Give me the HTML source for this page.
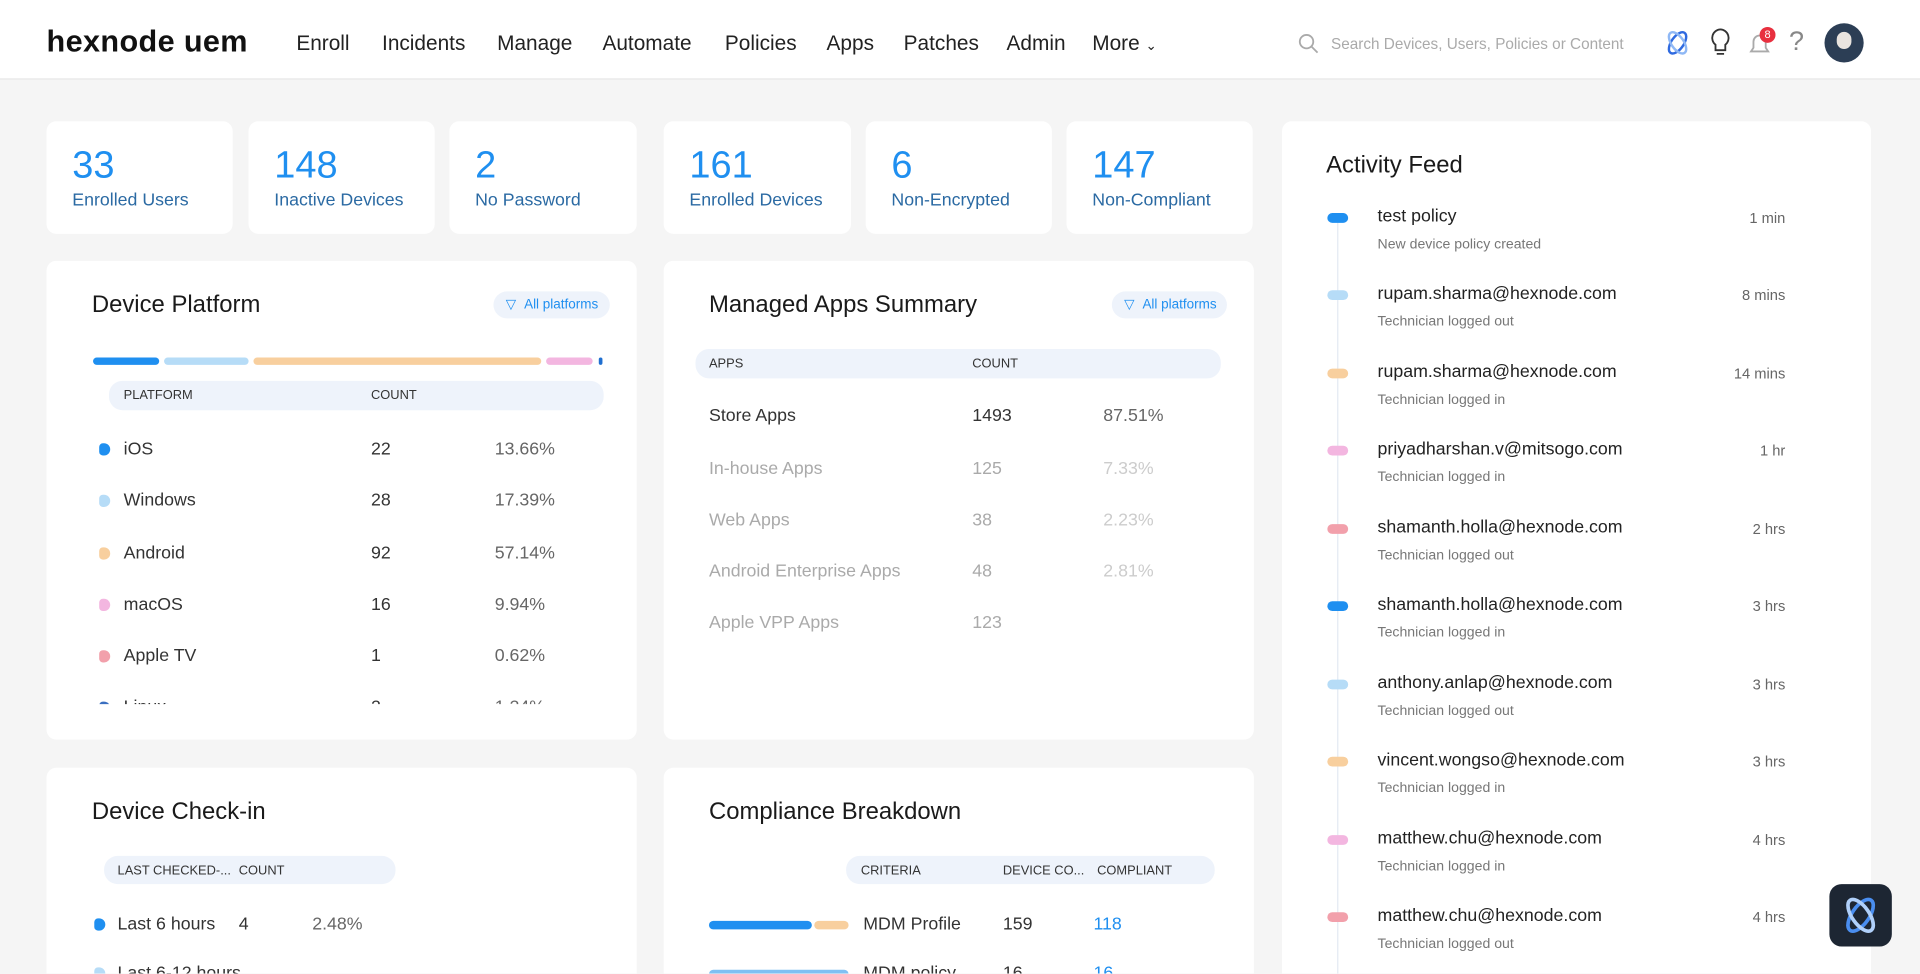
<!DOCTYPE html>
<html><head><meta charset="utf-8"><style>
*{margin:0;padding:0;box-sizing:border-box}
html,body{width:1920px;height:974px;overflow:hidden;background:#f5f5f5;font-family:"Liberation Sans",sans-serif}
#w{position:absolute;left:0;top:0;width:1568px;height:795px;transform:scale(1.22449);transform-origin:0 0;background:#f5f5f5;overflow:hidden}
.a{position:absolute;white-space:nowrap}
.nav{position:absolute;left:0;top:0;width:1568px;height:65px;background:#fff;border-bottom:1px solid #e6e6e6}
.ni{position:absolute;top:26px;font-size:17px;color:#222}
.card{position:absolute;background:#fff;border-radius:8px}
.num{position:absolute;left:21px;top:18px;font-size:31px;color:#1f8ff0}
.lab{position:absolute;left:21px;top:57px;font-size:14.5px;color:#2b6aa3}
.title{position:absolute;font-size:19.5px;color:#1a1a1a}
.pill{position:absolute;background:#eef3fb;border-radius:11px;font-size:10.5px;color:#333}
.filt{position:absolute;background:#eef3fb;border-radius:11px;font-size:11px;color:#1f8ff0;height:22px;line-height:22px;padding-left:25px}
.row{position:absolute;font-size:14.5px;color:#333}
.dot{position:absolute;width:9px;height:10px;border-radius:3px 5px 5px 3px}
.fi{position:absolute;left:0;width:480px;height:60px}
.fd{position:absolute;left:37px;top:-4px;width:17px;height:8px;border-radius:4px}
.fn{position:absolute;left:78px;top:-9px;font-size:14.5px;color:#222}
.ft{position:absolute;right:69px;top:-7px;font-size:12px;color:#666}
.fs{position:absolute;left:78px;top:16px;font-size:11.5px;color:#777}
</style></head><body><div id="w">
<div class="nav">
<div class="a" style="left:38px;top:20px;font-size:25px;font-weight:bold;color:#111;letter-spacing:0.3px">hexnode uem</div>
<div class="ni" style="left:242px">Enroll</div>
<div class="ni" style="left:312px">Incidents</div>
<div class="ni" style="left:406px">Manage</div>
<div class="ni" style="left:492px">Automate</div>
<div class="ni" style="left:592px">Policies</div>
<div class="ni" style="left:675px">Apps</div>
<div class="ni" style="left:738px">Patches</div>
<div class="ni" style="left:822px">Admin</div>
<div class="ni" style="left:892px">More <span style="font-size:11px">&#8964;</span></div>
<svg class="a" style="left:1060px;top:27px" width="18" height="18"><circle cx="7" cy="7" r="5.5" fill="none" stroke="#aaa" stroke-width="1.5"/><line x1="11" y1="11" x2="16" y2="16" stroke="#aaa" stroke-width="1.5"/></svg>
<div class="a" style="left:1087px;top:29px;font-size:12.5px;color:#aaa">Search Devices, Users, Policies or Content</div>
<svg class="a" style="left:1358px;top:23px" width="24" height="24"><ellipse cx="12" cy="12" rx="5" ry="10" fill="none" stroke="#2f6ae0" stroke-width="2" transform="rotate(35 12 12)"/><ellipse cx="12" cy="12" rx="5" ry="10" fill="none" stroke="#8fb8f5" stroke-width="2" transform="rotate(-35 12 12)"/></svg>
<svg class="a" style="left:1395px;top:22px" width="20" height="26"><path d="M10 2a7 7 0 0 0-4 12.5V19h8v-4.5A7 7 0 0 0 10 2z" fill="none" stroke="#333" stroke-width="1.5"/><line x1="7" y1="22" x2="13" y2="22" stroke="#333" stroke-width="1.5"/></svg>
<svg class="a" style="left:1426px;top:24px" width="22" height="24"><path d="M4 18h14l-2-3v-5a5 5 0 0 0-10 0v5z" fill="none" stroke="#aaa" stroke-width="1.5"/></svg>
<div class="a" style="left:1437px;top:22px;width:13px;height:13px;border-radius:7px;background:#e8303f;color:#fff;font-size:9px;text-align:center;line-height:13px">8</div>
<div class="a" style="left:1461px;top:21px;font-size:22px;color:#888">?</div>
<div class="a" style="left:1490px;top:19px;width:32px;height:32px;border-radius:16px;background:#2c3e55;overflow:hidden"><div style="position:absolute;left:10px;top:7px;width:12px;height:14px;border-radius:6px;background:#e9e4df"></div></div>
</div>

<div class="card" style="left:38px;top:99px;width:152px;height:92px"><div class="num">33</div><div class="lab">Enrolled Users</div></div>
<div class="card" style="left:203px;top:99px;width:152px;height:92px"><div class="num">148</div><div class="lab">Inactive Devices</div></div>
<div class="card" style="left:367px;top:99px;width:153px;height:92px"><div class="num">2</div><div class="lab">No Password</div></div>
<div class="card" style="left:542px;top:99px;width:153px;height:92px"><div class="num">161</div><div class="lab">Enrolled Devices</div></div>
<div class="card" style="left:707px;top:99px;width:152px;height:92px"><div class="num">6</div><div class="lab">Non-Encrypted</div></div>
<div class="card" style="left:871px;top:99px;width:152px;height:92px"><div class="num">147</div><div class="lab">Non-Compliant</div></div>

<div class="card" style="left:38px;top:213px;width:482px;height:391px;overflow:hidden">
<div class="title" style="left:37px;top:25px">Device Platform</div>
<div class="filt" style="left:365px;top:25px;width:95px">All platforms<span style="position:absolute;left:10px;top:0">&#9661;</span></div>
<div class="a" style="left:38px;top:79px;width:54px;height:6px;border-radius:3px;background:#1f8ff0"></div>
<div class="a" style="left:96px;top:79px;width:69px;height:6px;border-radius:3px;background:#b6dcf7"></div>
<div class="a" style="left:169px;top:79px;width:235px;height:6px;border-radius:3px;background:#f8cf9e"></div>
<div class="a" style="left:408px;top:79px;width:38px;height:6px;border-radius:3px;background:#f3b6e0"></div>
<div class="a" style="left:451px;top:79px;width:3px;height:6px;border-radius:2px;background:#1f6fd0"></div>
<div class="pill" style="left:51px;top:98px;width:404px;height:24px"><span class="a" style="left:12px;top:6px">PLATFORM</span><span class="a" style="left:214px;top:6px">COUNT</span></div>
<div class="a" style="left:0;top:0;width:482px;height:362px;overflow:hidden">
<div class="dot" style="left:43px;top:149px;background:#1f8ff0"></div><div class="row" style="left:63px;top:146px">iOS</div><div class="row" style="left:265px;top:146px">22</div><div class="row" style="left:366px;top:146px;color:#666">13.66%</div>
<div class="dot" style="left:43px;top:191px;background:#b6dcf7"></div><div class="row" style="left:63px;top:188px">Windows</div><div class="row" style="left:265px;top:188px">28</div><div class="row" style="left:366px;top:188px;color:#666">17.39%</div>
<div class="dot" style="left:43px;top:234px;background:#f8cf9e"></div><div class="row" style="left:63px;top:231px">Android</div><div class="row" style="left:265px;top:231px">92</div><div class="row" style="left:366px;top:231px;color:#666">57.14%</div>
<div class="dot" style="left:43px;top:276px;background:#f3b6e0"></div><div class="row" style="left:63px;top:273px">macOS</div><div class="row" style="left:265px;top:273px">16</div><div class="row" style="left:366px;top:273px;color:#666">9.94%</div>
<div class="dot" style="left:43px;top:318px;background:#f2a0ab"></div><div class="row" style="left:63px;top:315px">Apple TV</div><div class="row" style="left:265px;top:315px">1</div><div class="row" style="left:366px;top:315px;color:#666">0.62%</div>
<div class="dot" style="left:43px;top:360px;background:#3a6fc0"></div><div class="row" style="left:63px;top:357px">Linux</div><div class="row" style="left:265px;top:357px">2</div><div class="row" style="left:366px;top:357px;color:#666">1.24%</div>
</div></div>

<div class="card" style="left:542px;top:213px;width:482px;height:391px">
<div class="title" style="left:37px;top:25px">Managed Apps Summary</div>
<div class="filt" style="left:366px;top:25px;width:94px">All platforms<span style="position:absolute;left:10px;top:0">&#9661;</span></div>
<div class="pill" style="left:26px;top:72px;width:429px;height:24px"><span class="a" style="left:11px;top:6px">APPS</span><span class="a" style="left:226px;top:6px">COUNT</span></div>
<div class="row" style="left:37px;top:119px">Store Apps</div><div class="row" style="left:252px;top:119px">1493</div><div class="row" style="left:359px;top:119px;color:#666">87.51%</div>
<div class="row" style="left:37px;top:162px;color:#aaa">In-house Apps</div><div class="row" style="left:252px;top:162px;color:#aaa">125</div><div class="row" style="left:359px;top:162px;color:#ccc">7.33%</div>
<div class="row" style="left:37px;top:204px;color:#aaa">Web Apps</div><div class="row" style="left:252px;top:204px;color:#aaa">38</div><div class="row" style="left:359px;top:204px;color:#ccc">2.23%</div>
<div class="row" style="left:37px;top:246px;color:#aaa">Android Enterprise Apps</div><div class="row" style="left:252px;top:246px;color:#aaa">48</div><div class="row" style="left:359px;top:246px;color:#ccc">2.81%</div>
<div class="row" style="left:37px;top:288px;color:#aaa">Apple VPP Apps</div><div class="row" style="left:252px;top:288px;color:#aaa">123</div>
</div>

<div class="card" style="left:1047px;top:99px;width:481px;height:720px">
<div class="title" style="left:36px;top:25px">Activity Feed</div>
<div class="a" style="left:45px;top:80px;width:1px;height:640px;background:#e3e9f3"></div>
<div class="fi" style="top:79px"><div class="fd" style="background:#1f8ff0"></div><div class="fn">test policy</div><div class="ft">1 min</div><div class="fs">New device policy created</div></div>
<div class="fi" style="top:142px"><div class="fd" style="background:#b6dcf7"></div><div class="fn">rupam.sharma@hexnode.com</div><div class="ft">8 mins</div><div class="fs">Technician logged out</div></div>
<div class="fi" style="top:206px"><div class="fd" style="background:#f8cf9e"></div><div class="fn">rupam.sharma@hexnode.com</div><div class="ft">14 mins</div><div class="fs">Technician logged in</div></div>
<div class="fi" style="top:269px"><div class="fd" style="background:#f3b6e0"></div><div class="fn">priyadharshan.v@mitsogo.com</div><div class="ft">1 hr</div><div class="fs">Technician logged in</div></div>
<div class="fi" style="top:333px"><div class="fd" style="background:#f2a0ab"></div><div class="fn">shamanth.holla@hexnode.com</div><div class="ft">2 hrs</div><div class="fs">Technician logged out</div></div>
<div class="fi" style="top:396px"><div class="fd" style="background:#1f8ff0"></div><div class="fn">shamanth.holla@hexnode.com</div><div class="ft">3 hrs</div><div class="fs">Technician logged in</div></div>
<div class="fi" style="top:460px"><div class="fd" style="background:#b6dcf7"></div><div class="fn">anthony.anlap@hexnode.com</div><div class="ft">3 hrs</div><div class="fs">Technician logged out</div></div>
<div class="fi" style="top:523px"><div class="fd" style="background:#f8cf9e"></div><div class="fn">vincent.wongso@hexnode.com</div><div class="ft">3 hrs</div><div class="fs">Technician logged in</div></div>
<div class="fi" style="top:587px"><div class="fd" style="background:#f3b6e0"></div><div class="fn">matthew.chu@hexnode.com</div><div class="ft">4 hrs</div><div class="fs">Technician logged in</div></div>
<div class="fi" style="top:650px"><div class="fd" style="background:#f2a0ab"></div><div class="fn">matthew.chu@hexnode.com</div><div class="ft">4 hrs</div><div class="fs">Technician logged out</div></div>
</div>

<div class="card" style="left:38px;top:627px;width:482px;height:200px">
<div class="title" style="left:37px;top:25px">Device Check-in</div>
<div class="pill" style="left:47px;top:72px;width:238px;height:23px"><span class="a" style="left:11px;top:6px">LAST CHECKED-...</span><span class="a" style="left:110px;top:6px">COUNT</span></div>
<div class="dot" style="left:39px;top:123px;background:#1f8ff0"></div><div class="row" style="left:58px;top:120px">Last 6 hours</div><div class="row" style="left:157px;top:120px">4</div><div class="row" style="left:217px;top:120px;color:#666">2.48%</div>
<div class="dot" style="left:39px;top:163px;background:#b6dcf7"></div><div class="row" style="left:58px;top:160px">Last 6-12 hours</div>
</div>

<div class="card" style="left:542px;top:627px;width:482px;height:200px">
<div class="title" style="left:37px;top:25px">Compliance Breakdown</div>
<div class="pill" style="left:149px;top:72px;width:301px;height:23px"><span class="a" style="left:12px;top:6px">CRITERIA</span><span class="a" style="left:128px;top:6px">DEVICE CO...</span><span class="a" style="left:205px;top:6px">COMPLIANT</span></div>
<div class="a" style="left:37px;top:125px;width:84px;height:7px;border-radius:4px;background:#1f8ff0"></div>
<div class="a" style="left:123px;top:125px;width:28px;height:7px;border-radius:4px;background:#f8cf9e"></div>
<div class="row" style="left:163px;top:120px">MDM Profile</div><div class="row" style="left:277px;top:120px">159</div><div class="row" style="left:351px;top:120px;color:#1f8ff0">118</div>
<div class="a" style="left:37px;top:165px;width:114px;height:7px;border-radius:4px;background:#7fc0f3"></div>
<div class="row" style="left:163px;top:160px">MDM policy</div><div class="row" style="left:277px;top:160px">16</div><div class="row" style="left:351px;top:160px;color:#1f8ff0">16</div>
</div>

<div class="a" style="left:1494px;top:722px;width:51px;height:51px;border-radius:10px;background:#1d2633">
<svg width="51" height="51"><ellipse cx="25.5" cy="25.5" rx="7" ry="15" fill="none" stroke="#4a8ef0" stroke-width="3" transform="rotate(35 25.5 25.5)"/><ellipse cx="25.5" cy="25.5" rx="7" ry="15" fill="none" stroke="#b0d0fa" stroke-width="3" transform="rotate(-35 25.5 25.5)"/></svg></div>
</div></body></html>
